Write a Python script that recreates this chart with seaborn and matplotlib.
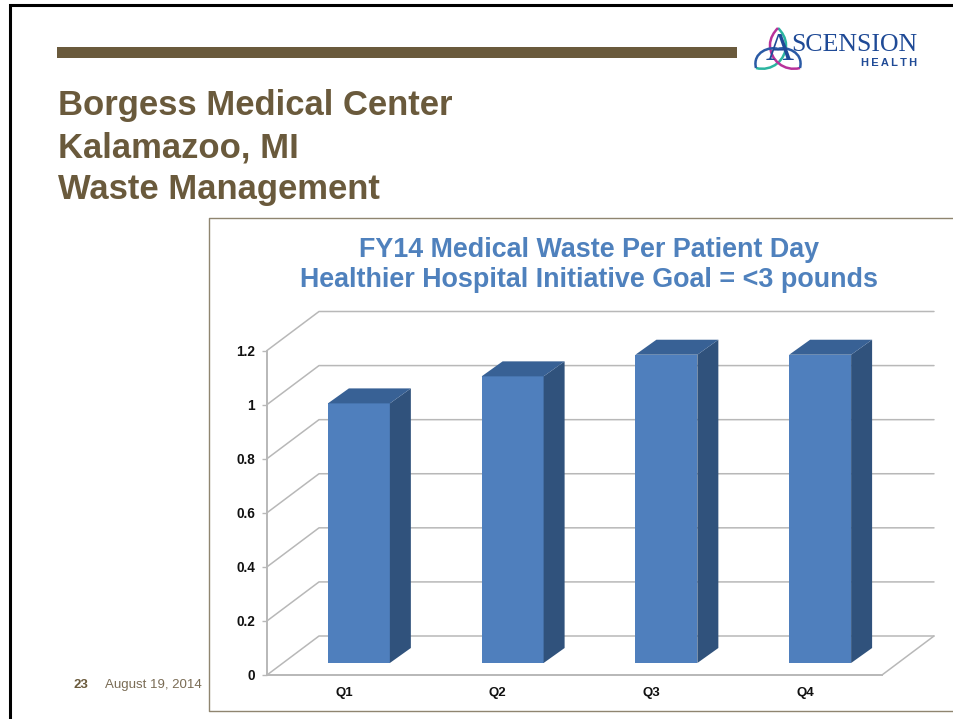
import matplotlib
matplotlib.use("Agg")
import matplotlib.pyplot as plt
import pandas as pd
import seaborn as sns
from matplotlib.path import Path
from matplotlib.patches import PathPatch, Polygon

quarters = ["Q1", "Q2", "Q3", "Q4"]
waste_per_day = [0.96, 1.06, 1.14, 1.14]
y_ticks = [0, 0.2, 0.4, 0.6, 0.8, 1, 1.2]
y_tick_labels = ["0", "0.2", "0.4", "0.6", "0.8", "1", "1.2"]

heading = ["Borgess Medical Center", "Kalamazoo, MI", "Waste Management"]
chart_title = ["FY14 Medical Waste Per Patient Day",
               "Healthier Hospital Initiative Goal = <3 pounds"]

BROWN = "#6a5a3c"
GRID = "#b8b8b8"
FRONT = "#4f7fbd"
SIDE = "#30527c"
TOP = "#386195"
W, H = 954, 719

sns.set_style("white")
plt.rcParams["font.family"] = ["Liberation Sans", "DejaVu Sans"]

fig = plt.figure(figsize=(W / 100, H / 100), dpi=100, facecolor="white")

# slide background, drawn in pixel coordinates
bg = fig.add_axes([0, 0, 1, 1])
bg.set_xlim(0, W)
bg.set_ylim(H, 0)
bg.axis("off")
bg.plot([10.5, 10.5, W], [H, 5, 5], color="black", lw=2.2, solid_joinstyle="miter")
bg.fill_between([57, 737], 47, 58, color=BROWN, lw=0)
for txt, y in zip(heading, [106, 148, 190]):
    bg.text(58, y, txt, color=BROWN, fontsize=24.9, fontweight="bold", va="center")
bg.plot([W, 209, 209, W], [218, 218, 711, 711], color="#8f8570", lw=1)
for txt, y in zip(chart_title, [250, 280]):
    bg.text(589, y, txt, color="#4f81bd", fontsize=19.4, fontweight="bold",
            ha="center", va="center")
bg.text(74, 685, "23", color=BROWN, fontsize=9.5, fontweight="bold", va="center")
bg.text(105, 685, "August 19, 2014", color="#7a6c55", fontsize=9.5, va="center")

# logo
for verts, col in [
    ([(756, 68), (772, 72), (786, 60), (786, 45), (786, 38), (782, 32), (778, 28)], "#2bb5a0"),
    ([(800, 68), (784, 72), (770, 60), (770, 45), (770, 38), (774, 32), (778, 28)], "#b8329a"),
    ([(756, 68), (752, 52), (770, 46), (778, 49), (786, 46), (804, 52), (800, 68)], "#2a5aa5"),
]:
    codes = [Path.MOVETO] + [Path.CURVE4] * 6
    bg.add_patch(PathPatch(Path(verts, codes), fc="none", ec=col, lw=1.8))
bg.text(779.5, 50, "A", family="Liberation Serif", color="#1f4a96", fontsize=28,
        ha="center", va="center")
bg.text(917, 45, "SCENSION", family="Liberation Serif", color="#1f4a96", fontsize=18.6,
        ha="right", va="center")
bg.text(917, 63.5, "H\u2009E\u2009A\u2009L\u2009T\u2009H", color="#1f4a96", fontsize=8,
        fontweight="bold", ha="right", va="center")

# chart axes: the front edge of the 3d box
left, right, y0, y_top = 267, 882, 675, 350.5
ax = fig.add_axes([left / W, 1 - y0 / H, (right - left) / W, (y0 - y_top) / H])
ax.patch.set_alpha(0)

df = pd.DataFrame({"quarter": quarters, "waste": waste_per_day})
sns.barplot(data=df, x="quarter", y="waste", color=FRONT, saturation=1, width=0.403,
            ax=ax, zorder=5)
ax.set_xlim(-0.5, 3.5)
ax.set_ylim(0, 1.2)

x_unit = right - left
wall_dx = 52 / (x_unit / 4)
wall_dy = 39 / ((y0 - y_top) / 1.2)
shift_x = 15 / (x_unit / 4)
shift_y = 12 / ((y0 - y_top) / 1.2)
depth_x = 21 / (x_unit / 4)
depth_y = 15 / ((y0 - y_top) / 1.2)

# walls of the box
for v in y_ticks:
    ax.plot([-0.5, -0.5 + wall_dx, 3.5 + wall_dx], [v, v + wall_dy, v + wall_dy],
            color=GRID, lw=1.1, clip_on=False, zorder=1)
ax.plot([3.5, 3.5 + wall_dx], [0, wall_dy], color=GRID, lw=1.1, clip_on=False, zorder=1)

# move the bars into the box and add their side and top faces
for bar in list(ax.patches):
    bar.set_x(bar.get_x() + shift_x)
    bar.set_y(shift_y)
    bar.set_linewidth(0)
    x1 = bar.get_x() + bar.get_width()
    x0 = bar.get_x()
    bot = bar.get_y()
    top = bot + bar.get_height()
    ax.add_patch(Polygon([(x1, bot), (x1 + depth_x, bot + depth_y),
                          (x1 + depth_x, top + depth_y), (x1, top)],
                         fc=SIDE, lw=0, zorder=5, clip_on=False))
    ax.add_patch(Polygon([(x0, top), (x0 + depth_x, top + depth_y),
                          (x1 + depth_x, top + depth_y), (x1, top)],
                         fc=TOP, lw=0, zorder=5, clip_on=False))

sns.despine(ax=ax, top=True, right=True)
for side in ["left", "bottom"]:
    ax.spines[side].set_color(GRID)
    ax.spines[side].set_linewidth(1.4)
ax.set_xlabel("")
ax.set_ylabel("")
ax.set_yticks(y_ticks, y_tick_labels, fontsize=9.8, fontweight="bold", color="#111111")
ax.set_xticks(range(4), quarters, fontsize=9.5, fontweight="bold", color="#111111")
ax.set_xticks([-0.5, 0.5, 1.5, 2.5, 3.5], minor=True)
ax.tick_params(axis="x", which="major", length=0, pad=8.5)
ax.tick_params(axis="x", which="minor", length=3.5, width=1, color=GRID, direction="out")
ax.tick_params(axis="y", length=3.5, width=1, color=GRID, pad=5, left=True)

fig.savefig("out.png", dpi=100)
